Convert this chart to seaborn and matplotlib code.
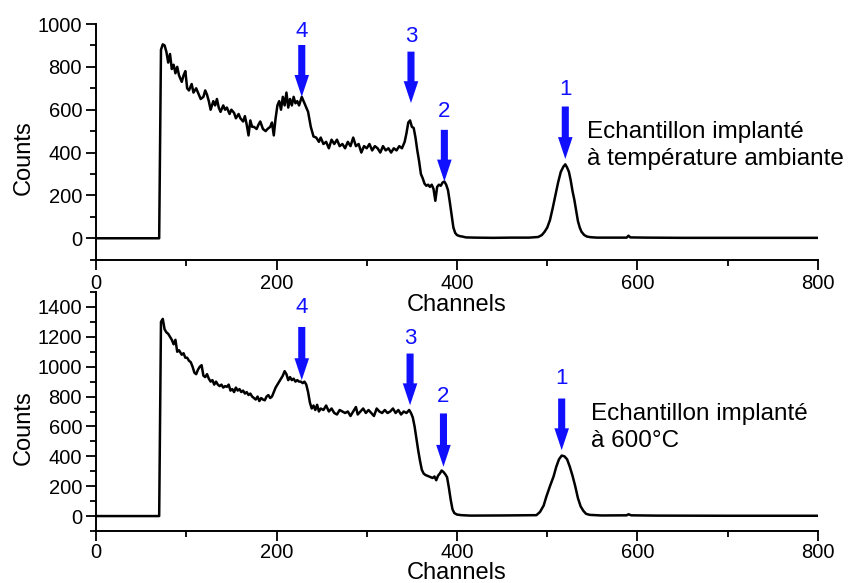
import matplotlib
matplotlib.use("Agg")
import matplotlib.pyplot as plt
import seaborn as sns
import pandas as pd
from matplotlib.ticker import MultipleLocator

# ---------------- data ----------------
ch_rt = [0, 70, 72, 74, 76, 78, 80, 82, 84, 86, 88, 90, 92, 95, 97, 99, 101, 103, 106, 108,
         111, 114, 116, 119, 121, 123, 125, 127, 130, 132, 134, 136, 138, 141, 143, 145, 148,
         150, 153, 155, 158, 160, 163, 165, 167, 169, 171, 173, 175, 178, 180, 182, 185, 188,
         190, 193, 195, 197, 199, 201, 203, 205, 207, 209, 211, 213, 215, 217, 219, 221, 223,
         225, 228, 230, 232, 235, 238, 241, 244, 247, 249, 252, 255, 258, 261, 264, 267, 270,
         273, 276, 279, 282, 285, 288, 291, 294, 297, 300, 303, 306, 309, 312, 315, 318, 321,
         324, 327, 330, 333, 336, 339, 342, 344, 346, 348, 350, 352, 354, 356, 358, 360, 362,
         364, 366, 368, 370, 372, 374, 376, 378, 380, 382, 384, 386, 388, 390, 392, 394, 396,
         398, 400, 403, 406, 410, 420, 440, 460, 480, 490, 494, 497, 500, 503, 506, 509, 512,
         515, 518, 520, 522, 524, 526, 528, 530, 532, 534, 536, 538, 541, 544, 548, 555, 570,
         588, 590, 592, 610, 650, 700, 750, 800]
counts_rt = [0, 0, 880, 905, 900, 870, 820, 860, 790, 810, 770, 800, 760, 730, 760, 780, 700,
             690, 720, 680, 700, 670, 650, 660, 690, 670, 640, 600, 640, 620, 650, 610, 590,
             620, 600, 610, 580, 600, 585, 560, 580, 560, 545, 570, 530, 480, 550, 520, 520,
             510, 530, 545, 510, 500, 510, 520, 540, 480, 560, 620, 640, 600, 660, 620, 680,
             610, 650, 620, 660, 630, 640, 620, 660, 640, 620, 590, 520, 475, 470, 450, 470,
             440, 450, 420, 460, 440, 460, 430, 440, 420, 450, 430, 470, 430, 440, 400, 430,
             420, 440, 410, 430, 420, 400, 430, 410, 420, 400, 420, 410, 430, 420, 450, 490,
             540, 550, 520, 515, 470, 410, 360, 300, 280, 255, 245, 250, 240, 250, 230, 175,
             240, 250, 245, 260, 265, 250, 225, 170, 110, 50, 25, 15, 10, 8, 4, 3, 2, 3, 3, 6,
             15, 30, 50, 85, 140, 200, 260, 310, 335, 345, 330, 310, 270, 220, 180, 130, 80,
             50, 30, 15, 8, 5, 3, 3, 3, 12, 4, 3, 2, 2, 2, 2]

ch_600 = [0, 70, 72, 74, 76, 78, 80, 82, 84, 86, 88, 90, 92, 95, 97, 99, 101, 103, 105, 107,
          109, 111, 113, 115, 117, 119, 121, 123, 125, 127, 129, 131, 133, 135, 137, 139, 141,
          143, 145, 147, 149, 151, 153, 155, 157, 159, 161, 163, 165, 167, 169, 171, 173, 175,
          177, 179, 181, 183, 185, 187, 189, 191, 193, 195, 197, 199, 201, 203, 205, 207, 209,
          211, 213, 215, 217, 219, 221, 223, 225, 227, 229, 231, 233, 235, 237, 239, 241, 243,
          245, 247, 249, 252, 255, 258, 261, 264, 267, 270, 273, 276, 279, 282, 285, 288, 290,
          293, 296, 299, 302, 305, 308, 311, 314, 317, 320, 323, 326, 329, 332, 335, 338, 341,
          344, 347, 349, 351, 353, 355, 357, 359, 361, 363, 365, 367, 369, 371, 373, 375, 377,
          379, 381, 383, 385, 387, 389, 391, 393, 395, 397, 400, 405, 415, 450, 488, 492, 496,
          499, 503, 507, 510, 513, 516, 519, 522, 525, 528, 531, 534, 537, 540, 543, 547, 560,
          588, 590, 593, 620, 700, 800]
counts_600 = [0, 0, 1300, 1320, 1250, 1230, 1220, 1200, 1180, 1150, 1180, 1100, 1110, 1080,
              1090, 1060, 1060, 1040, 1030, 1000, 960, 950, 980, 1000, 1010, 940, 930, 950,
              920, 900, 910, 880, 900, 880, 870, 880, 860, 870, 865, 880, 840, 850, 830, 860,
              840, 850, 830, 840, 820, 830, 810, 820, 800, 790, 780, 800, 770, 790, 780, 775,
              800, 810, 790, 800, 830, 860, 880, 900, 920, 940, 970, 950, 910, 930, 910, 920,
              900, 910, 900, 900, 890, 900, 880, 830, 760, 720, 740, 710, 745, 700, 720, 710,
              740, 700, 720, 690, 680, 710, 700, 690, 700, 670, 700, 730, 680, 700, 720, 690,
              710, 690, 670, 720, 700, 690, 710, 690, 700, 720, 690, 710, 680, 700, 690, 710,
              690, 660, 600, 520, 440, 370, 310, 285, 275, 270, 265, 260, 255, 265, 240, 270,
              285, 305, 295, 280, 260, 190, 110, 45, 20, 10, 6, 3, 4, 6, 28, 70, 130, 200, 265,
              330, 380, 405, 400, 380, 330, 270, 200, 120, 65, 35, 15, 8, 4, 5, 12, 5, 3, 2, 2]

peak_labels = ["4", "3", "2", "1"]
peak_ch_rt = [228, 349, 386, 520]
arrow_tail_rt = [902, 871, 506, 615]
arrow_head_rt = [660, 631, 265, 370]
label_y_rt = [965, 940, 592, 695]

peak_ch_600 = [228, 348, 385, 516]
arrow_tail_600 = [1266, 1088, 687, 787]
arrow_head_600 = [910, 742, 330, 441]
label_y_600 = [1395, 1190, 800, 922]

panels = [
    dict(ch=ch_rt, counts=counts_rt, ylim=(-100, 1000), ymax_tick=1000,
         peaks=peak_ch_rt, tails=arrow_tail_rt, heads=arrow_head_rt, ly=label_y_rt,
         text="Echantillon implanté\nà température ambiante", tx=544, ty=432,
         lpad=0.5, xpad=3.5),
    dict(ch=ch_600, counts=counts_600, ylim=(-100, 1500), ymax_tick=1400,
         peaks=peak_ch_600, tails=arrow_tail_600, heads=arrow_head_600, ly=label_y_600,
         text="Echantillon implanté\nà 600°C", tx=549, ty=592,
         lpad=-0.2, xpad=2.0),
]

# ---------------- style ----------------
sns.set_style("ticks")
plt.rcParams["font.family"] = ["Liberation Sans", "DejaVu Sans"]
for k in ["text.color", "axes.labelcolor", "xtick.color", "ytick.color", "axes.edgecolor"]:
    plt.rcParams[k] = "black"
BLUE = "#1010ff"

fig = plt.figure(figsize=(8.48, 5.83), dpi=100)
W, H = 848, 583
rects = [(96, 24, 818, 259.7), (96, 292, 818, 531)]

for p, (x0, y0, x1, y1) in zip(panels, rects):
    ax = fig.add_axes([x0 / W, 1 - y1 / H, (x1 - x0) / W, (y1 - y0) / H])
    ax.patch.set_visible(False)
    df = pd.DataFrame({"Channels": p["ch"], "Counts": p["counts"]})
    sns.lineplot(data=df, x="Channels", y="Counts", ax=ax, color="black",
                 linewidth=1.8, estimator=None, sort=False)
    ax.set_xlim(0, 800)
    ax.set_ylim(*p["ylim"])
    ax.xaxis.set_major_locator(MultipleLocator(200))
    ax.xaxis.set_minor_locator(MultipleLocator(100))
    ax.yaxis.set_major_locator(MultipleLocator(200))
    ax.yaxis.set_minor_locator(MultipleLocator(100))
    ax.set_yticks(list(range(0, p["ymax_tick"] + 1, 200)))
    for s in ["top", "right"]:
        ax.spines[s].set_visible(False)
    for s in ["left", "bottom"]:
        ax.spines[s].set_linewidth(1.4)
    ax.spines["left"].set_bounds(-100, p["ylim"][1])
    ax.tick_params(which="major", direction="out", length=7, width=1.3,
                   labelsize=14.5, pad=3)
    ax.tick_params(which="minor", direction="out", length=4.5, width=1.3)
    ax.tick_params(axis="x", which="major", pad=p["xpad"])
    ax.set_xlabel("Channels", fontsize=17, labelpad=p["lpad"])
    ax.set_ylabel("Counts", fontsize=17)
    ax.yaxis.set_label_coords(-0.085, 0.434)

    for lab, xc, yt, yh, yl in zip(peak_labels, p["peaks"], p["tails"], p["heads"], p["ly"]):
        ax.annotate("", xy=(xc, yh), xytext=(xc, yt),
                    arrowprops=dict(arrowstyle="simple,head_length=1.05,head_width=0.7,tail_width=0.34",
                                    mutation_scale=15, color=BLUE, shrinkA=0, shrinkB=0, lw=0))
        ax.text(xc, yl, lab, color=BLUE, fontsize=16, ha="center", va="center")

    ax.text(p["tx"], p["ty"], p["text"], fontsize=17.5, ha="left", va="center",
            linespacing=1.3)

fig.savefig("out.png", dpi=100)
